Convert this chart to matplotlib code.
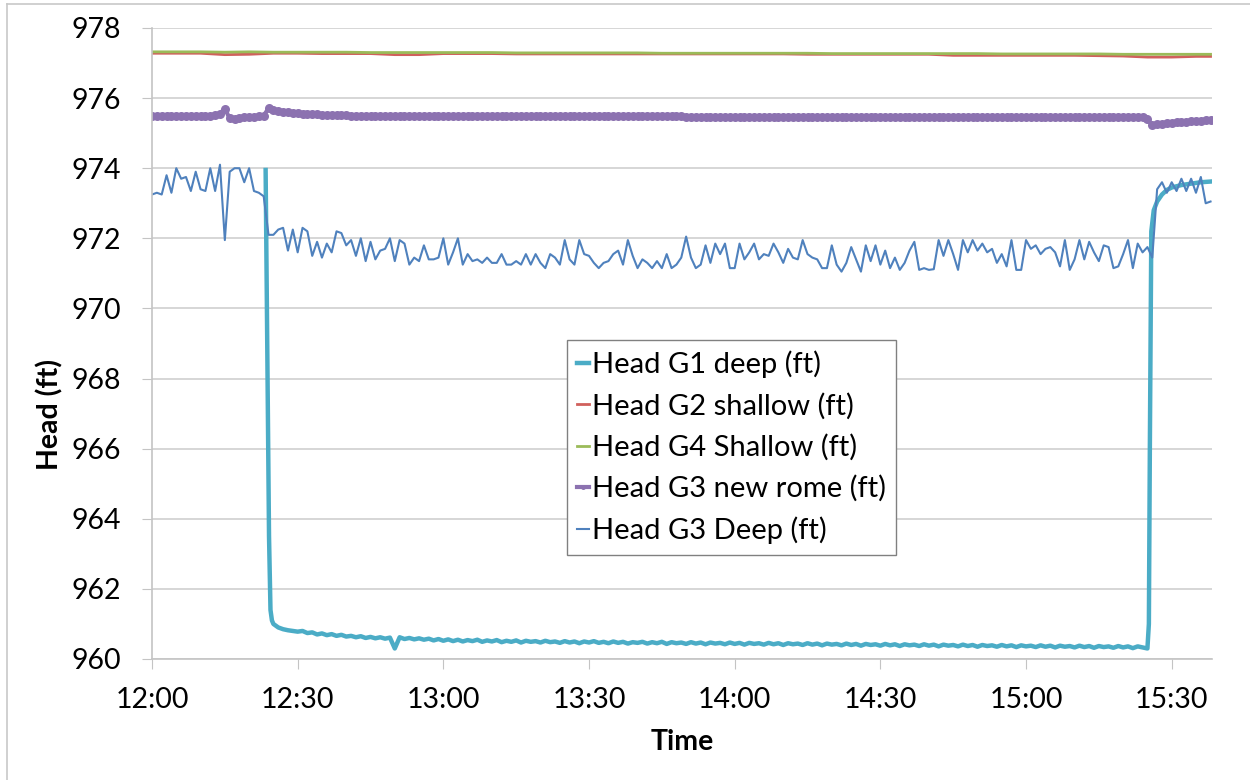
import numpy as np
import matplotlib
matplotlib.use('Agg')
import matplotlib.pyplot as plt
from matplotlib.lines import Line2D

plt.rcParams['font.family'] = ['Lato', 'DejaVu Sans']

# time axis: minutes after 12:00
tick_minutes = [0, 30, 60, 90, 120, 150, 180, 210]
tick_labels = ['12:00', '12:30', '13:00', '13:30', '14:00', '14:30', '15:00', '15:30']

# G3 Deep, one reading per minute (0..218)
g3_deep_t = np.arange(0, 219)
g3_deep = [
    973.25, 973.30, 973.25, 973.80, 973.30, 974.00, 973.70, 973.75, 973.35, 973.90,
    973.40, 973.35, 974.00, 973.35, 974.10, 971.95, 973.90, 974.00, 974.00, 973.60,
    974.00, 973.35, 973.30, 973.20, 972.10, 972.10, 972.25, 972.30, 971.65, 972.25,
    971.60, 972.30, 972.20, 971.50, 971.90, 971.45, 971.85, 971.60, 972.20, 972.15,
    971.80, 971.95, 971.50, 972.00, 971.35, 971.90, 971.40, 971.65, 971.70, 972.00,
    971.35, 971.95, 971.85, 971.25, 971.45, 971.35, 971.80, 971.40, 971.40, 971.45,
    972.00, 971.25, 971.60, 972.00, 971.25, 971.55, 971.35, 971.40, 971.30, 971.45,
    971.30, 971.30, 971.55, 971.25, 971.25, 971.35, 971.25, 971.55, 971.25, 971.55,
    971.30, 971.15, 971.55, 971.45, 971.25, 971.95, 971.40, 971.25, 971.95, 971.55,
    971.50, 971.30, 971.15, 971.30, 971.35, 971.55, 971.65, 971.25, 971.95, 971.50,
    971.15, 971.40, 971.30, 971.15, 971.35, 971.15, 971.55, 971.15, 971.25, 971.45,
    972.05, 971.45, 971.15, 971.25, 971.80, 971.30, 971.85, 971.55, 971.85, 971.15,
    971.15, 971.85, 971.40, 971.60, 971.85, 971.40, 971.55, 971.50, 971.85, 971.60,
    971.30, 971.70, 971.45, 971.40, 971.95, 971.55, 971.45, 971.40, 971.15, 971.15,
    971.80, 971.25, 971.05, 971.30, 971.75, 971.40, 971.05, 971.80, 971.35, 971.80,
    971.25, 971.65, 971.15, 971.45, 971.10, 971.30, 971.65, 971.90, 971.10, 971.15,
    971.10, 971.12, 971.95, 971.50, 971.95, 971.55, 971.10, 971.95, 971.60, 971.95,
    971.65, 971.85, 971.60, 971.70, 971.30, 971.55, 971.20, 971.95, 971.10, 971.10,
    971.95, 971.70, 971.80, 971.55, 971.70, 971.75, 971.60, 971.20, 971.95, 971.10,
    971.40, 971.95, 971.40, 971.90, 971.60, 971.35, 971.80, 971.75, 971.15, 971.20,
    971.55, 971.95, 971.15, 971.85, 971.60, 971.75, 971.45, 973.40, 973.60, 973.30,
    973.60, 973.35, 973.70, 973.35, 973.70, 973.30, 973.75, 973.00, 973.05,
]

# G1 deep: drawdown starts ~12:23, recovery ~15:25
g1_drop_t = [23.4, 23.8, 24.1, 24.4, 24.7]
g1_drop = [973.95, 968.0, 963.5, 961.4, 961.1]
g1_flat_t = np.arange(25, 206)
g1_flat = [
    961.00, 960.90, 960.85, 960.82, 960.80,
    960.78, 960.80, 960.74, 960.76, 960.70, 960.73, 960.68, 960.71, 960.66, 960.69,
    960.64, 960.66, 960.62, 960.65, 960.60, 960.63, 960.59, 960.62, 960.58, 960.61,
    960.30, 960.62, 960.57, 960.60, 960.56, 960.59, 960.55, 960.58, 960.53, 960.57,
    960.52, 960.56, 960.51, 960.55, 960.50, 960.54, 960.51, 960.55, 960.49, 960.53,
    960.50, 960.54, 960.48, 960.52, 960.49, 960.53, 960.47, 960.52, 960.49, 960.51,
    960.47, 960.52, 960.48, 960.50, 960.46, 960.51, 960.47, 960.50, 960.45, 960.50,
    960.47, 960.51, 960.46, 960.49, 960.45, 960.50, 960.46, 960.49, 960.44, 960.48,
    960.46, 960.49, 960.44, 960.48, 960.45, 960.49, 960.43, 960.48, 960.45, 960.47,
    960.43, 960.48, 960.44, 960.47, 960.42, 960.47, 960.44, 960.46, 960.42, 960.47,
    960.43, 960.46, 960.41, 960.46, 960.43, 960.45, 960.41, 960.46, 960.42, 960.45,
    960.40, 960.45, 960.42, 960.44, 960.40, 960.45, 960.41, 960.44, 960.39, 960.44,
    960.41, 960.43, 960.39, 960.44, 960.40, 960.43, 960.38, 960.43, 960.40, 960.42,
    960.38, 960.43, 960.39, 960.42, 960.37, 960.42, 960.39, 960.41, 960.37, 960.42,
    960.38, 960.41, 960.36, 960.41, 960.38, 960.40, 960.36, 960.41, 960.37, 960.40,
    960.35, 960.40, 960.37, 960.39, 960.35, 960.40, 960.36, 960.39, 960.34, 960.39,
    960.36, 960.38, 960.34, 960.39, 960.35, 960.38, 960.33, 960.38, 960.35, 960.37,
    960.33, 960.38, 960.34, 960.37, 960.32, 960.37, 960.34, 960.36, 960.32, 960.37,
    960.33, 960.36, 960.31, 960.36, 960.33, 960.30,
]
g1_rise_t = [205.3, 205.5, 205.8, 206.3, 207, 208, 209, 210, 212, 214, 216, 218]
g1_rise = [961.0, 966.0, 972.2, 972.8, 973.05, 973.25, 973.38, 973.45, 973.52, 973.56, 973.60, 973.62]

# shallow wells, every 5 minutes
shallow_t = np.append(np.arange(0, 216, 5), 218)
g2_shallow = [
    977.28, 977.28, 977.28, 977.24, 977.25, 977.28, 977.28, 977.27, 977.27, 977.27,
    977.24, 977.24, 977.27, 977.27, 977.27, 977.26, 977.26, 977.26, 977.26, 977.26,
    977.26, 977.26, 977.26, 977.26, 977.26, 977.26, 977.26, 977.25, 977.25, 977.25,
    977.25, 977.25, 977.25, 977.22, 977.22, 977.22, 977.22, 977.22, 977.22, 977.21,
    977.20, 977.17, 977.17, 977.19, 977.19,
]
g4_shallow = [
    977.32, 977.32, 977.32, 977.31, 977.32, 977.31, 977.31, 977.31, 977.31, 977.30,
    977.30, 977.30, 977.30, 977.30, 977.30, 977.29, 977.29, 977.29, 977.29, 977.29,
    977.29, 977.28, 977.28, 977.28, 977.28, 977.28, 977.28, 977.28, 977.27, 977.27,
    977.27, 977.27, 977.27, 977.27, 977.27, 977.26, 977.26, 977.26, 977.26, 977.26,
    977.25, 977.25, 977.25, 977.25, 977.25,
]

# G3 new rome, one reading per minute (0..218)
g3_rome_t = np.arange(0, 219)
g3_rome = [
    975.49, 975.49, 975.50, 975.49, 975.49, 975.49, 975.50, 975.49, 975.49, 975.49,
    975.50, 975.50, 975.50, 975.51, 975.56, 975.70, 975.42, 975.41, 975.44, 975.45,
    975.46, 975.47, 975.48, 975.50, 975.71, 975.67, 975.64, 975.61, 975.59, 975.58,
    975.57, 975.56, 975.55, 975.54, 975.54, 975.53, 975.53, 975.52, 975.52, 975.51,
    975.51, 975.50, 975.50, 975.50, 975.49, 975.49, 975.49, 975.49, 975.49, 975.49,
    975.49, 975.49, 975.49, 975.49, 975.49, 975.49, 975.49, 975.49, 975.49, 975.49,
    975.48, 975.48, 975.48, 975.48, 975.48, 975.48, 975.48, 975.48, 975.48, 975.48,
    975.48, 975.48, 975.48, 975.48, 975.48, 975.48, 975.48, 975.48, 975.48, 975.48,
    975.48, 975.48, 975.48, 975.48, 975.48, 975.48, 975.48, 975.48, 975.48, 975.48,
    975.48, 975.48, 975.48, 975.48, 975.48, 975.48, 975.48, 975.48, 975.48, 975.48,
    975.48, 975.48, 975.48, 975.48, 975.48, 975.48, 975.48, 975.48, 975.48, 975.48,
    975.47, 975.47, 975.47, 975.47, 975.47, 975.47, 975.47, 975.47, 975.47, 975.47,
    975.47, 975.47, 975.47, 975.47, 975.47, 975.47, 975.47, 975.47, 975.47, 975.47,
    975.47, 975.47, 975.47, 975.47, 975.47, 975.47, 975.47, 975.47, 975.47, 975.47,
    975.47, 975.47, 975.47, 975.47, 975.47, 975.47, 975.47, 975.47, 975.47, 975.47,
    975.47, 975.47, 975.47, 975.47, 975.47, 975.47, 975.47, 975.47, 975.47, 975.47,
    975.47, 975.47, 975.47, 975.47, 975.47, 975.47, 975.47, 975.47, 975.47, 975.47,
    975.45, 975.45, 975.45, 975.45, 975.45, 975.45, 975.45, 975.45, 975.45, 975.45,
    975.45, 975.45, 975.45, 975.45, 975.45, 975.45, 975.45, 975.45, 975.45, 975.45,
    975.45, 975.45, 975.45, 975.45, 975.45, 975.45, 975.45, 975.45, 975.45, 975.45,
    975.45, 975.45, 975.45, 975.45, 975.45, 975.40, 975.22, 975.25, 975.27, 975.29,
    975.30, 975.31, 975.32, 975.33, 975.34, 975.35, 975.36, 975.37, 975.37,
]

g1_t = np.concatenate([g1_drop_t, g1_flat_t, g1_rise_t])
g1 = np.concatenate([g1_drop, g1_flat, g1_rise])

W, H = 1250, 780
fig = plt.figure(figsize=(W / 100, H / 100), dpi=100)
ax = fig.add_axes([152 / W, 1 - 659 / H, (1212 - 152) / W, (659 - 28) / H])

ax.plot(g1_t, g1, color='#4BACC6', lw=3.2, label='Head G1 deep (ft)')
ax.plot(shallow_t, g2_shallow, color='#D0605C', lw=2.0, label='Head G2 shallow (ft)')
ax.plot(shallow_t, g4_shallow, color='#9BBB59', lw=2.0, label='Head G4 Shallow (ft)')
ax.plot(g3_rome_t, g3_rome, color='#8C72B0', lw=3, marker='o', ms=6.5, mew=0,
        label='Head G3 new rome (ft)')
ax.plot(g3_deep_t, g3_deep, color='#4F81BD', lw=1.5, label='Head G3 Deep (ft)')

ax.set_xlim(0, 218.3)
ax.set_ylim(960, 978)
ax.set_yticks(np.arange(960, 979, 2))
ax.set_xticks(tick_minutes)
ax.set_xticklabels(tick_labels)
ax.grid(axis='y', color='#d0d0d0', lw=1.2)
ax.set_axisbelow(True)
for s in ['top', 'right']:
    ax.spines[s].set_visible(False)
for s in ['left', 'bottom']:
    ax.spines[s].set_color('#c4c4c4')
    ax.spines[s].set_linewidth(1.2)
ax.tick_params(axis='y', direction='out', length=7, color='#c4c4c4', labelsize=20.5, pad=15)
ax.tick_params(axis='x', direction='out', length=7, color='#c4c4c4', labelsize=20.5, pad=13)

fig.text(50 / W, 1 - 414 / H, 'Head (ft)', rotation=90, ha='center', va='center',
         fontsize=20.5, fontweight='bold')
fig.text(682 / W, 1 - 742 / H, 'Time', ha='center', va='center',
         fontsize=20.5, fontweight='bold')

leg = ax.legend(loc='upper left', bbox_to_anchor=(567 / W, 1 - 340 / H),
                bbox_transform=fig.transFigure, borderaxespad=0, fontsize=21,
                frameon=True, fancybox=False, edgecolor='#808080', framealpha=1,
                handlelength=0.4, handletextpad=0.1, labelspacing=0.5,
                borderpad=0.35, markerscale=0.55)
leg.get_frame().set_linewidth(1.0)

# chart area border
fig.add_artist(Line2D([7 / W, 7 / W], [1 - 4 / H, 0], transform=fig.transFigure,
                      color='#c8c8c8', lw=1.2))
fig.add_artist(Line2D([7 / W, 1], [1 - 4 / H, 1 - 4 / H], transform=fig.transFigure,
                      color='#c8c8c8', lw=1.2))

fig.savefig('out.png', dpi=100)
